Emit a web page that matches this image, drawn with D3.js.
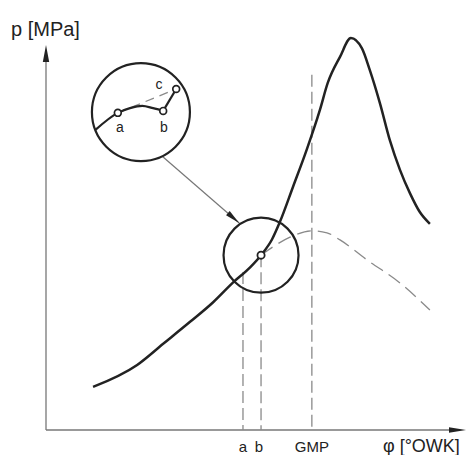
<!DOCTYPE html>
<html><head><meta charset="utf-8">
<script src="https://cdn.jsdelivr.net/npm/d3@7"></script>
<style>
html,body{margin:0;padding:0;background:#fff;}
text{font-family:"Liberation Sans",Arial,sans-serif;fill:#222;}
</style></head>
<body><svg id="c" width="467" height="455"></svg>
<script>
// ---- data (x: crank angle units, y: pressure units) ----
const firedCurve = [
  [11.2,11.0],[21.7,16.6],[27.9,22.0],[34.3,27.6],[39.8,32.6],[44.5,37.6],
  [48.6,41.5],[51.2,44.6],[53.8,48.6],[55.7,53.1],[58.8,62.0],[62.1,71.6],
  [65.2,81.6],[67.1,88.6],[70.0,95.2],[72.6,100],[75.2,97.4],[77.1,91.8],
  [79.5,83.4],[81.9,73.8],[84.3,66.3],[86.7,60.3],[89.0,55.6],[91.4,52.6]
];
const motoredCurve = [
  [51.2,44.6],[54.0,46.7],[58.1,49.2],[63.3,50.8],[66.9,50.3],[70.0,48.5],
  [76.4,43.4],[84.3,37.5],[91.4,30.6]
];
const markerLines = [
  {label:"a",   x:46.9, top:40.3},
  {label:"b",   x:51.2, top:44.6},
  {label:"GMP", x:63.3, top:90.6}
];
const pointB = [51.2,44.6];
// inset (magnified view)
const insetCenter = [22.6,81.1];
const insetCurve = [[11.7,76.5],[17.1,80.9],[20.0,82.1],[22.9,82.7],[25.5,82.1],[27.9,81.4]];
const insetBC = [[27.9,81.4],[31.0,87.0]];
const insetDashed = [[17.1,80.9],[31.0,87.0]];
const insetPoints = [
  {label:"a", p:[17.1,80.9], lp:[17.6,76.0]},
  {label:"b", p:[27.9,81.4], lp:[28.1,76.0]},
  {label:"c", p:[31.0,87.0], lp:[26.9,87.0]}
];
const leaderArrow = [[27.6,69.9],[46.0,52.8]];
const axisLabels = {y:"p [MPa]", x:"φ [°OWK]"};

// ---- scales ----
const x = d3.scaleLinear().domain([0,100]).range([46,466]);
const y = d3.scaleLinear().domain([0,100]).range([430,38]);
const svg = d3.select("#c");
const ink="#222", grey="#8a8a8a", axisGrey="#777";

// axes
svg.append("line").attr("x1",x(0)).attr("y1",y(0)).attr("x2",x(0)).attr("y2",y(96))
  .attr("stroke",axisGrey).attr("stroke-width",1.3);
svg.append("line").attr("x1",x(0)).attr("y1",y(0)).attr("x2",x(96)).attr("y2",y(0))
  .attr("stroke",axisGrey).attr("stroke-width",1.3);
const yTip=[x(0),y(98.2)];
svg.append("path").attr("d",`M${yTip[0]},${yTip[1]} L${yTip[0]-3.2},${yTip[1]+17} L${yTip[0]+3.2},${yTip[1]+17} Z`).attr("fill",ink);
const xTip=[x(100),y(0)];
svg.append("path").attr("d",`M${xTip[0]},${xTip[1]} L${xTip[0]-17},${xTip[1]-2.8} L${xTip[0]-17},${xTip[1]+2.8} Z`).attr("fill",ink);

// axis labels
svg.append("text").attr("x",11).attr("y",36).attr("font-size",20).text(axisLabels.y);
svg.append("text").attr("x",383).attr("y",452).attr("font-size",18).text(axisLabels.x);

// vertical dashed lines
svg.selectAll(".vl").data(markerLines).enter().append("line")
  .attr("x1",d=>x(d.x)).attr("x2",d=>x(d.x)).attr("y1",d=>y(d.top)).attr("y2",y(0))
  .attr("stroke",grey).attr("stroke-width",1.3).attr("stroke-dasharray","12,5");
svg.selectAll(".vt").data(markerLines).enter().append("text")
  .attr("x",d=>x(d.x)-(d.label==="b"?2:0)).attr("y",452).attr("font-size",15)
  .attr("text-anchor","middle").text(d=>d.label);

const line = d3.line().x(d=>x(d[0])).y(d=>y(d[1]));
// motored (dashed) curve
svg.append("path").attr("d",line.curve(d3.curveMonotoneX)(motoredCurve))
  .attr("fill","none").attr("stroke",grey).attr("stroke-width",1.3).attr("stroke-dasharray","14,7");
// fired curve
svg.append("path").attr("d",line.curve(d3.curveMonotoneX)(firedCurve))
  .attr("fill","none").attr("stroke",ink).attr("stroke-width",2.5).attr("stroke-linejoin","round");

// lens circle around point b
svg.append("circle").attr("cx",x(pointB[0])).attr("cy",y(pointB[1])).attr("r",37.5)
  .attr("fill","none").attr("stroke",ink).attr("stroke-width",2.2);
svg.append("circle").attr("cx",x(pointB[0])).attr("cy",y(pointB[1])).attr("r",3.6)
  .attr("fill","#fff").attr("stroke",ink).attr("stroke-width",1.8);

// leader arrow
const [p0,p1]=leaderArrow.map(d=>[x(d[0]),y(d[1])]);
svg.append("line").attr("x1",p0[0]).attr("y1",p0[1]).attr("x2",p1[0]).attr("y2",p1[1])
  .attr("stroke",axisGrey).attr("stroke-width",1.2);
{
  const dx=p1[0]-p0[0], dy=p1[1]-p0[1], L=Math.hypot(dx,dy), ux=dx/L, uy=dy/L;
  const len=15, w=2.8;
  const bx=p1[0]-ux*len, by=p1[1]-uy*len;
  svg.append("path").attr("d",`M${p1[0]},${p1[1]} L${bx-uy*w},${by+ux*w} L${bx+uy*w},${by-ux*w} Z`).attr("fill",ink);
}

// inset
svg.append("circle").attr("cx",x(insetCenter[0])).attr("cy",y(insetCenter[1])).attr("r",49)
  .attr("fill","#fff").attr("stroke",ink).attr("stroke-width",2.2);
svg.append("path").attr("d",d3.line().x(d=>x(d[0])).y(d=>y(d[1]))(insetDashed))
  .attr("fill","none").attr("stroke",grey).attr("stroke-width",1.3).attr("stroke-dasharray","9,6");
svg.append("path").attr("d",d3.line().x(d=>x(d[0])).y(d=>y(d[1])).curve(d3.curveMonotoneX)(insetCurve))
  .attr("fill","none").attr("stroke",ink).attr("stroke-width",2.2);
svg.append("path").attr("d",d3.line().x(d=>x(d[0])).y(d=>y(d[1]))(insetBC))
  .attr("fill","none").attr("stroke",ink).attr("stroke-width",2.2);
svg.selectAll(".ip").data(insetPoints).enter().append("circle")
  .attr("cx",d=>x(d.p[0])).attr("cy",d=>y(d.p[1])).attr("r",3.4)
  .attr("fill","#fff").attr("stroke",ink).attr("stroke-width",1.7);
svg.selectAll(".il").data(insetPoints).enter().append("text")
  .attr("x",d=>x(d.lp[0])).attr("y",d=>y(d.lp[1])).attr("font-size",14)
  .attr("text-anchor","middle").text(d=>d.label);
</script></body></html>
